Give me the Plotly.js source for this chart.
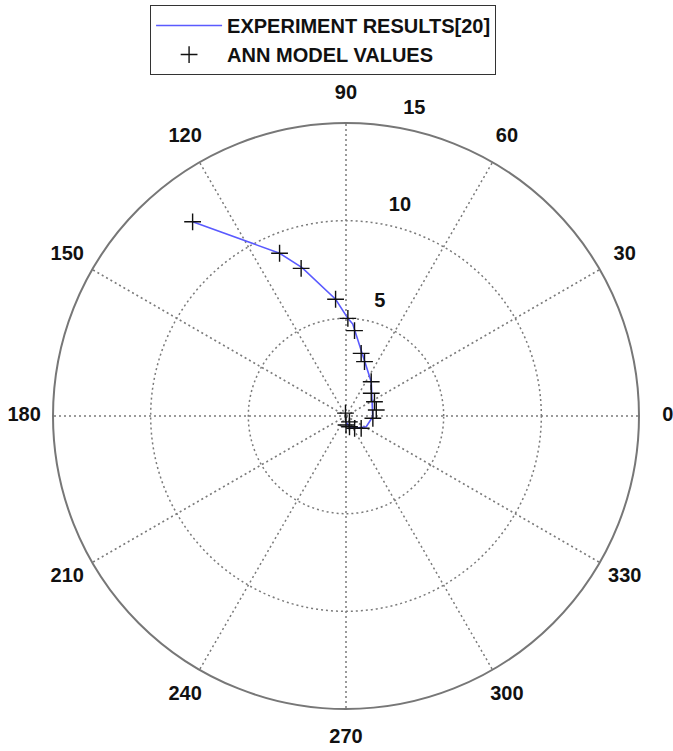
<!DOCTYPE html>
<html>
<head>
<meta charset="utf-8">
<script src="https://cdn.plot.ly/plotly-3.0.1.min.js"></script>
<style>html,body{margin:0;padding:0;background:#fff;}#chart{width:673px;height:751px;}</style>
</head>
<body>
<div id="chart"></div>
<script>
// Experiment results [20] (polyline vertices): radius and angle (deg)
const expR     = [12.67, 9.0, 7.92, 6.0, 5.0, 4.72, 2.18, 1.37, 1.17, 0.77, 0.58, 0.35];
const expTheta = [128.3, 112.2, 106.5, 95.1, 88.9, 85.8, 53.7, -1.5, -27.9, -55.4, -72, -85];

// ANN model values (markers)
const annR     = [12.67, 9.0, 7.9, 6.0, 5.0, 4.39, 3.30, 2.94, 2.18, 1.74, 1.63, 1.58, 1.38, 1.0, 0.77, 0.58, 0.46, 0.35, 0.15];
const annTheta = [128.3, 112.2, 106.9, 95.1, 88.9, 84.3, 76.4, 71.2, 53.7, 42, 26.6, 11.2, -4.9, -39, -55, -72, -90, -60, 100];

const angleTicks = [0, 30, 60, 90, 120, 150, 180, 210, 240, 270, 300, 330];
const angleLabels = ['0', '30', '60', '90', '120', '150', '180', '210', '240', '270', '300', '330'];
const radialTicks = [5, 10, 15];
const radialLabels = ['5', '10', '15'];

const RMAX = 15;              // outer circle value
const LABEL_OFFSET = -1.229;  // label layer: radial origin shifted so labels sit outward
const LABEL_RMAX = 15.3;      // label layer outer value
const ANGLE_LABEL_R = 15.25;  // angle labels centred just outside the outer circle

const family = '"Liberation Sans", Arial, sans-serif';
const tickFont = {family: family, size: 20, color: '#111', weight: 700};
const legendFont = {family: family, size: 20, color: '#111', weight: 700};

const data = [
  {type: 'scatterpolar', subplot: 'polar', r: expR, theta: expTheta, mode: 'lines',
   name: 'EXPERIMENT RESULTS[20]', line: {color: '#5a5aff', width: 1.6}},
  {type: 'scatterpolar', subplot: 'polar', r: annR, theta: annTheta, mode: 'markers',
   name: 'ANN MODEL VALUES', marker: {symbol: 'cross-thin-open', size: 12, color: '#111', line: {color: '#111', width: 1.4}}},
  {type: 'scatterpolar', subplot: 'polar2', r: angleTicks.map(() => ANGLE_LABEL_R), theta: angleTicks,
   text: angleLabels, mode: 'text', textposition: 'middle center', textfont: tickFont,
   cliponaxis: false, showlegend: false, hoverinfo: 'skip'}
];

const layout = {
  width: 673, height: 751,
  margin: {l: 0, r: 0, t: 0, b: 0},
  paper_bgcolor: '#fff',
  font: tickFont,
  showlegend: true,
  legend: {x: 0.223, xanchor: 'left', y: 0.9933, yanchor: 'top', bgcolor: '#fff',
           bordercolor: '#333', borderwidth: 1, font: legendFont, itemwidth: 66, tracegroupgap: 0},
  polar: {
    domain: {x: [0.07875, 0.94948], y: [0.05593, 0.83622]},
    bgcolor: 'rgba(0,0,0,0)',
    angularaxis: {
      direction: 'counterclockwise', rotation: 0,
      tickmode: 'array', tickvals: angleTicks, ticktext: angleLabels, showticklabels: false,
      showline: true, linecolor: '#777', linewidth: 2,
      showgrid: true, gridcolor: '#7a7a7a', gridwidth: 1.5, griddash: '2px,3px',
      ticks: ''
    },
    radialaxis: {
      range: [0, RMAX], tickmode: 'array', tickvals: radialTicks,
      showticklabels: false, ticks: '', showline: false,
      showgrid: true, gridcolor: '#7a7a7a', gridwidth: 1.5, griddash: '2px,3px'
    }
  },
  polar2: {
    domain: {x: [0.03447, 0.99376], y: [0.01625, 0.8759]},
    bgcolor: 'rgba(0,0,0,0)',
    angularaxis: {direction: 'counterclockwise', rotation: 0,
                  showgrid: false, showline: false, showticklabels: false, ticks: ''},
    radialaxis: {
      range: [LABEL_OFFSET, LABEL_RMAX], angle: 81.5, side: 'clockwise',
      tickmode: 'array', tickvals: radialTicks, ticktext: radialLabels,
      showgrid: false, showline: false, ticks: '',
      tickfont: tickFont, tickangle: 81.5
    }
  }
};

Plotly.newPlot('chart', data, layout, {displayModeBar: false, staticPlot: true});
</script>
</body>
</html>
